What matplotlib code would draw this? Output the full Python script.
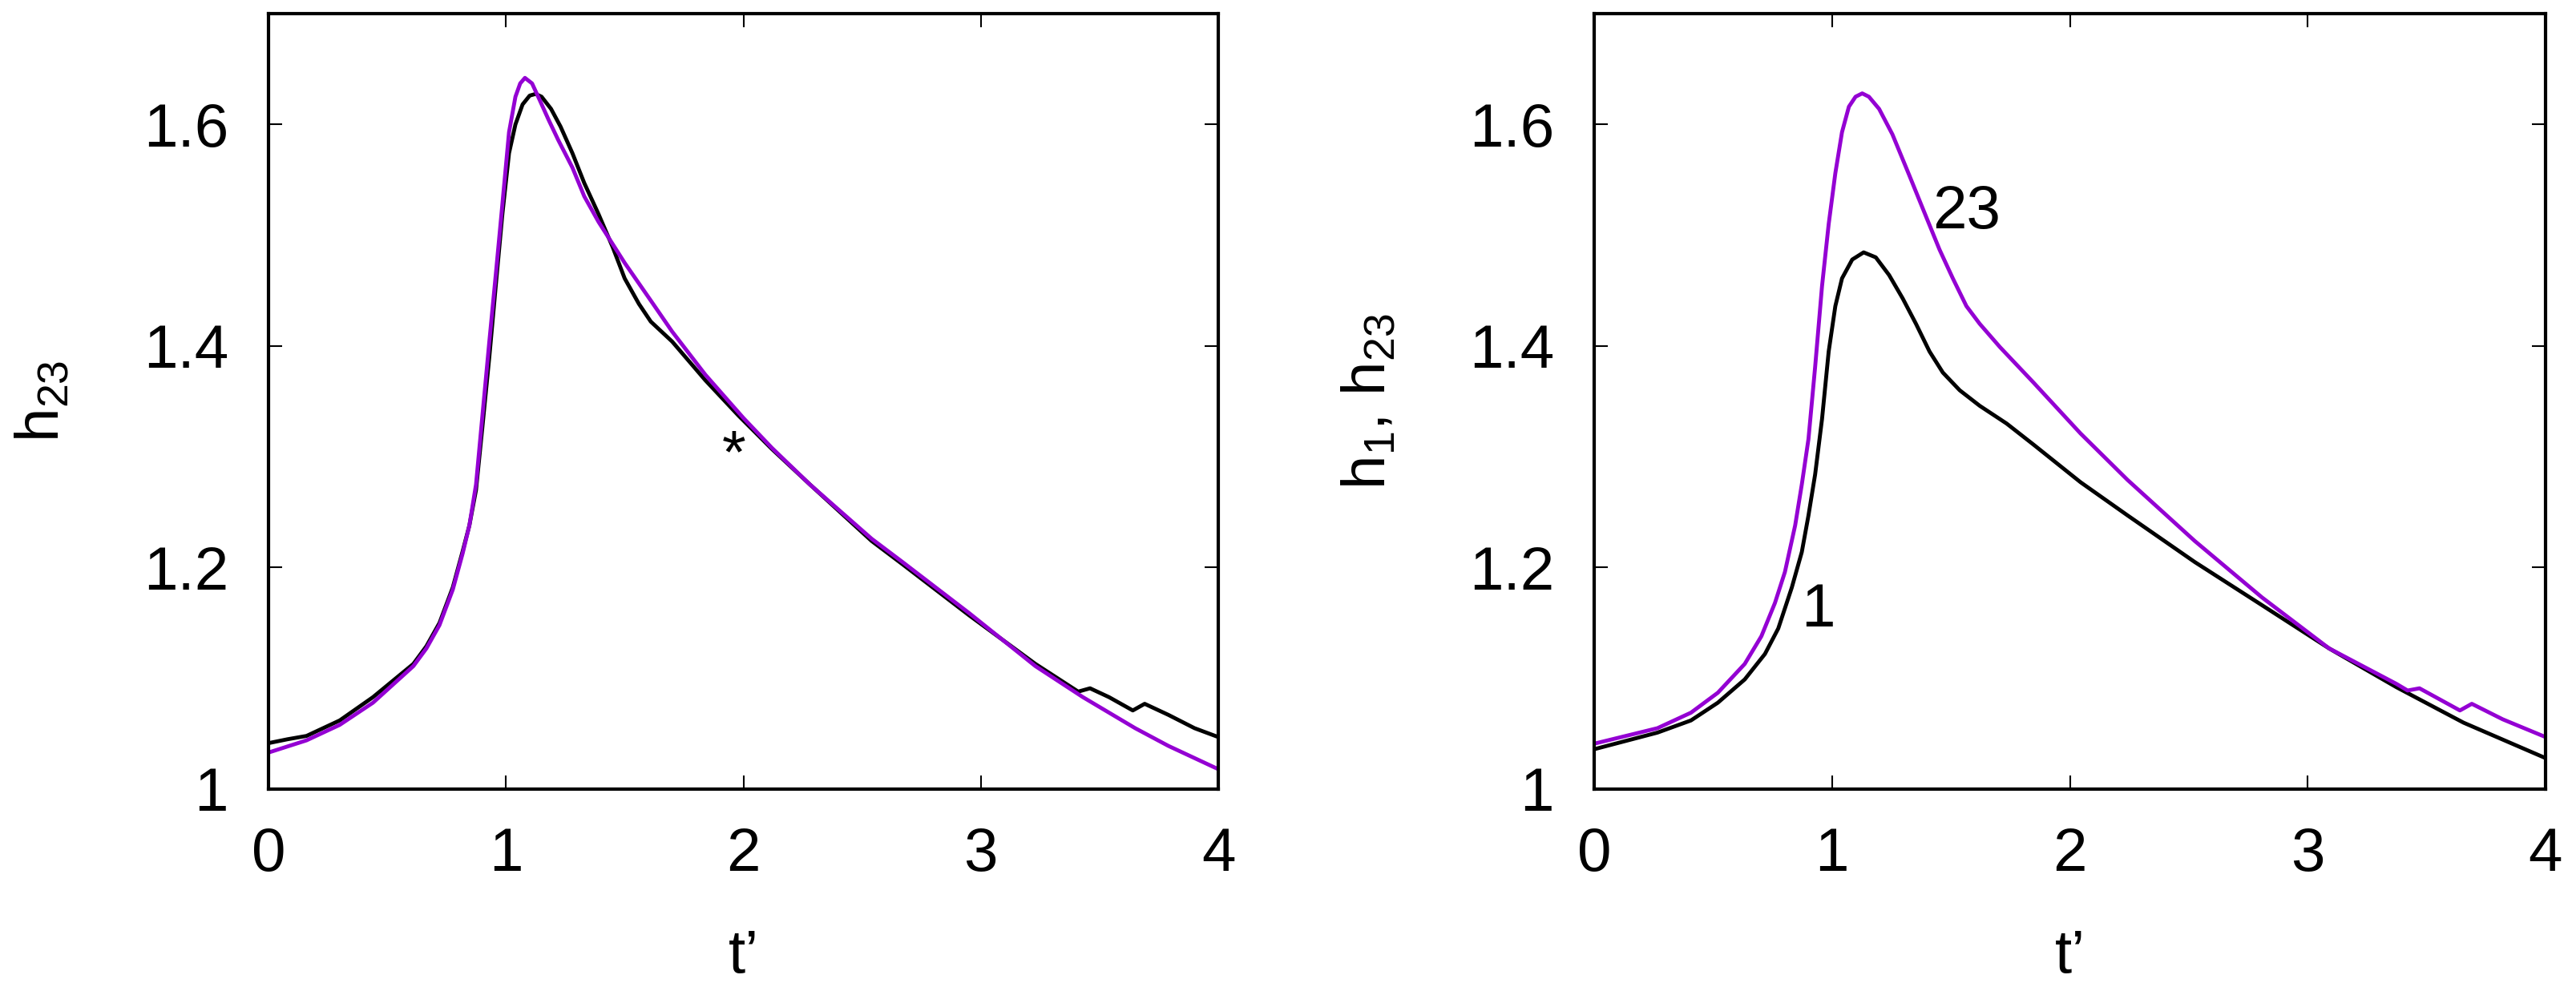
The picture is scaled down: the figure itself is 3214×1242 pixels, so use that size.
import matplotlib
matplotlib.use("Agg")
import matplotlib.pyplot as plt

plt.rcParams["font.family"] = ["Liberation Sans", "DejaVu Sans"]
plt.rcParams["mathtext.default"] = "regular"

# left panel: h23 of two runs
t_left_black = [0, 0.08, 0.16, 0.30, 0.44, 0.61, 0.665, 0.72, 0.776, 0.818, 0.846, 0.874, 0.90,
                0.93, 0.957, 0.985, 1.013, 1.04, 1.07, 1.10, 1.125, 1.15, 1.19, 1.23, 1.28, 1.33,
                1.39, 1.45, 1.50, 1.56, 1.61, 1.70, 1.84, 1.98, 2.12, 2.28, 2.54, 2.67, 2.95,
                3.23, 3.41, 3.46, 3.54, 3.64, 3.69, 3.79, 3.90, 4.0]
h_left_black = [1.0415, 1.045, 1.048, 1.062, 1.083, 1.113, 1.129, 1.150, 1.182, 1.215, 1.238,
                1.270, 1.325, 1.390, 1.454, 1.519, 1.574, 1.600, 1.618, 1.626, 1.6275, 1.625,
                1.614, 1.598, 1.574, 1.547, 1.519, 1.489, 1.461, 1.438, 1.422, 1.404, 1.369,
                1.337, 1.307, 1.275, 1.224, 1.203, 1.157, 1.113, 1.088, 1.091, 1.083, 1.071,
                1.077, 1.067, 1.055, 1.047]

t_left_purple = [0, 0.16, 0.30, 0.44, 0.61, 0.665, 0.72, 0.776, 0.818, 0.846, 0.874, 0.90, 0.93,
                 0.957, 0.985, 1.013, 1.04, 1.06, 1.08, 1.11, 1.14, 1.18, 1.22, 1.28, 1.33, 1.39,
                 1.50, 1.61, 1.70, 1.84, 2.00, 2.12, 2.28, 2.54, 2.67, 2.95, 3.23, 3.43, 3.65,
                 3.79, 4.0]
h_left_purple = [1.033, 1.044, 1.058, 1.078, 1.111, 1.127, 1.148, 1.180, 1.213, 1.238, 1.275,
                 1.335, 1.404, 1.464, 1.528, 1.593, 1.625, 1.637, 1.642, 1.637, 1.623, 1.604,
                 1.586, 1.561, 1.535, 1.512, 1.475, 1.441, 1.413, 1.374, 1.335, 1.308, 1.275,
                 1.226, 1.205, 1.159, 1.111, 1.083, 1.055, 1.039, 1.018]

# right panel: h1 and h23
t_h1 = [0, 0.266, 0.407, 0.520, 0.633, 0.718, 0.774, 0.831, 0.873, 0.901, 0.929, 0.958, 0.986,
        1.014, 1.042, 1.085, 1.133, 1.184, 1.240, 1.297, 1.353, 1.410, 1.466, 1.537, 1.621,
        1.734, 1.847, 2.045, 2.243, 2.525, 2.808, 3.090, 3.373, 3.655, 4.0]
h1 = [1.036, 1.051, 1.062, 1.078, 1.099, 1.122, 1.145, 1.182, 1.214, 1.247, 1.284, 1.334, 1.395,
      1.436, 1.461, 1.478, 1.4845, 1.480, 1.464, 1.443, 1.420, 1.395, 1.376, 1.360, 1.346, 1.330,
      1.311, 1.277, 1.247, 1.205, 1.166, 1.127, 1.092, 1.060, 1.028]

t_h23 = [0, 0.266, 0.407, 0.520, 0.633, 0.703, 0.760, 0.802, 0.845, 0.873, 0.901, 0.929, 0.958,
         0.986, 1.014, 1.042, 1.071, 1.099, 1.127, 1.155, 1.198, 1.254, 1.325, 1.395, 1.452,
         1.508, 1.565, 1.621, 1.706, 1.847, 2.045, 2.243, 2.525, 2.808, 3.090, 3.373, 3.42,
         3.47, 3.64, 3.69, 3.82, 4.0]
h23 = [1.041, 1.055, 1.069, 1.087, 1.113, 1.138, 1.168, 1.196, 1.238, 1.275, 1.316, 1.381, 1.454,
       1.510, 1.556, 1.593, 1.616, 1.625, 1.628, 1.625, 1.614, 1.591, 1.554, 1.517, 1.487, 1.461,
       1.436, 1.420, 1.399, 1.367, 1.321, 1.279, 1.224, 1.173, 1.127, 1.095, 1.089, 1.091, 1.071,
       1.077, 1.063, 1.047]

x_ticks = [0, 1, 2, 3, 4]
y_ticks = [1.0, 1.2, 1.4, 1.6]
y_tick_labels = ["1", "1.2", "1.4", "1.6"]

violet = "#9400d3"
fs = 55

fig = plt.figure(figsize=(32.14, 12.42), dpi=100)
W, H = 3214, 1242
ax1 = fig.add_axes([335 / W, 1 - 985 / H, 1185 / W, 968 / H])
ax2 = fig.add_axes([1989 / W, 1 - 985 / H, 1187 / W, 968 / H])

line_kw = dict(lw=3.5, solid_joinstyle="round", solid_capstyle="round")

ax1.plot(t_left_black, h_left_black, color="black", **line_kw)
ax1.plot(t_left_purple, h_left_purple, color=violet, **line_kw)
ax1.text(1.96, 1.300, "*", fontsize=fs, ha="center", va="center")

ax2.plot(t_h1, h1, color="black", **line_kw)
ax2.plot(t_h23, h23, color=violet, **line_kw)
ax2.text(1.565, 1.52, "23", fontsize=fs, ha="center", va="center")
ax2.text(0.94, 1.161, "1", fontsize=fs, ha="center", va="center")

for ax in (ax1, ax2):
    ax.set_xlim(0, 4)
    ax.set_ylim(1.0, 1.7)
    ax.set_xticks(x_ticks)
    ax.set_xticklabels([str(v) for v in x_ticks])
    ax.set_yticks(y_ticks)
    ax.set_yticklabels(y_tick_labels)
    ax.tick_params(direction="in", top=True, right=True, length=12, width=1.5,
                   labelsize=fs)
    ax.tick_params(axis="x", pad=34)
    ax.tick_params(axis="y", pad=36)
    for sp in ax.spines.values():
        sp.set_linewidth(3)
    ax.set_xlabel("t’", fontsize=fs)
    ax.xaxis.set_label_coords(0.5, -0.18)

ax1.set_ylabel("$h_{23}$", fontsize=fs)
ax1.yaxis.set_label_coords(-0.207, 0.5)
ax2.set_ylabel("$h_1$, $h_{23}$", fontsize=fs)
ax2.yaxis.set_label_coords(-0.206, 0.5)

fig.savefig("out.png", dpi=100)
